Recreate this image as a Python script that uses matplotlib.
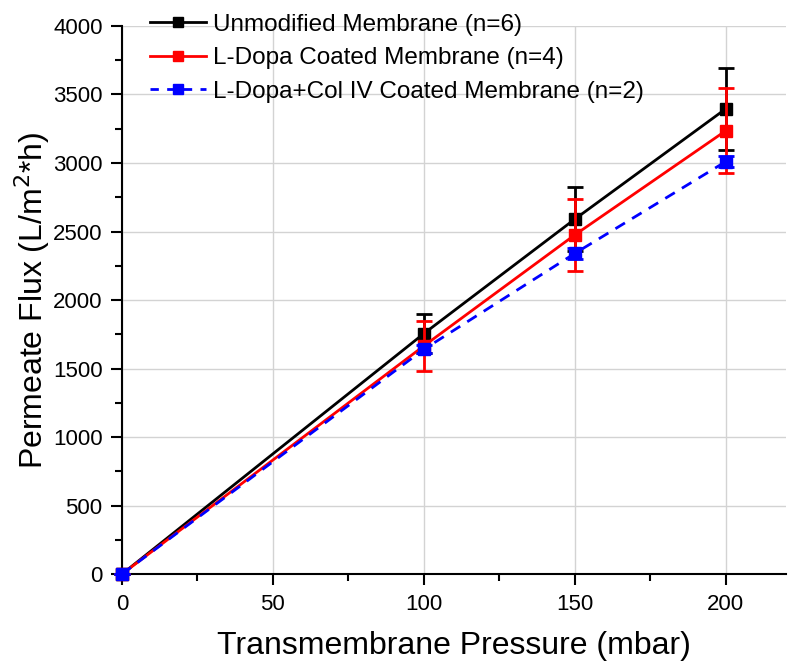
import numpy as np
import matplotlib.pyplot as plt
from matplotlib.lines import Line2D
from matplotlib.ticker import MultipleLocator

plt.rcParams['font.family'] = ['Liberation Sans', 'DejaVu Sans']

# pressure steps (mbar)
pressure = [0, 100, 150, 200]

# mean permeate flux and standard deviation for each membrane
unmod_flux = [0, 1755, 2590, 3395]
unmod_err = [0, 140, 235, 300]
dopa_flux = [0, 1665, 2475, 3235]
dopa_err = [0, 183, 260, 310]
col_flux = [0, 1640, 2340, 3010]
col_err = [0, 30, 40, 40]

labels = ['Unmodified Membrane (n=6)',
          'L-Dopa Coated Membrane (n=4)',
          'L-Dopa+Col IV Coated Membrane (n=2)']

fig = plt.figure(figsize=(7.9, 6.66), dpi=100)
ax = fig.add_axes([0.1544, 0.138, 0.8406, 0.823])

ax.grid(True, color='#d3d3d3', linewidth=1)
ax.set_axisbelow(True)

# draw the three series with their error bars
ax.errorbar(pressure, unmod_flux, yerr=unmod_err, color='black', lw=2,
            marker='s', ms=8, capsize=6, capthick=2, elinewidth=2,
            clip_on=False, zorder=3)
ax.errorbar(pressure, dopa_flux, yerr=dopa_err, color='red', lw=2,
            marker='s', ms=8, capsize=6, capthick=2, elinewidth=2,
            clip_on=False, zorder=4)
ax.errorbar(pressure, col_flux, yerr=col_err, color='blue', lw=2, ls=(0, (4, 3)),
            marker='s', ms=9, capsize=6, capthick=2, elinewidth=2,
            clip_on=False, zorder=5)

ax.set_xlim(0, 220)
ax.set_ylim(0, 4000)
ax.xaxis.set_minor_locator(MultipleLocator(25))
ax.yaxis.set_major_locator(MultipleLocator(500))
ax.yaxis.set_minor_locator(MultipleLocator(250))
ax.set_xticks([0, 50, 100, 150, 200])

ax.tick_params(which='major', direction='out', length=8, width=1.5, labelsize=16, pad=6)
ax.tick_params(which='minor', direction='out', length=5, width=1.5)

for side in ['top', 'right']:
    ax.spines[side].set_visible(False)
for side in ['left', 'bottom']:
    ax.spines[side].set_linewidth(1.5)

ax.set_xlabel('Transmembrane Pressure (mbar)', fontsize=23, labelpad=12)
ax.set_ylabel('Permeate Flux (L/m$^2$*h)', fontsize=23, labelpad=1)

# legend shows plain line+marker handles
handles = [
    Line2D([], [], color='black', lw=2, marker='s', ms=6.5),
    Line2D([], [], color='red', lw=2, marker='s', ms=6.5),
    Line2D([], [], color='blue', lw=2, ls=(0, (3, 3)), marker='s', ms=6.5),
]
ax.legend(handles, labels, loc='upper left', bbox_to_anchor=(0.035, 1.031),
          frameon=False, fontsize=17.5, handlelength=2.3, handletextpad=0.3,
          labelspacing=0.47, borderpad=0.2, borderaxespad=0)

fig.savefig('out.png', dpi=100)
